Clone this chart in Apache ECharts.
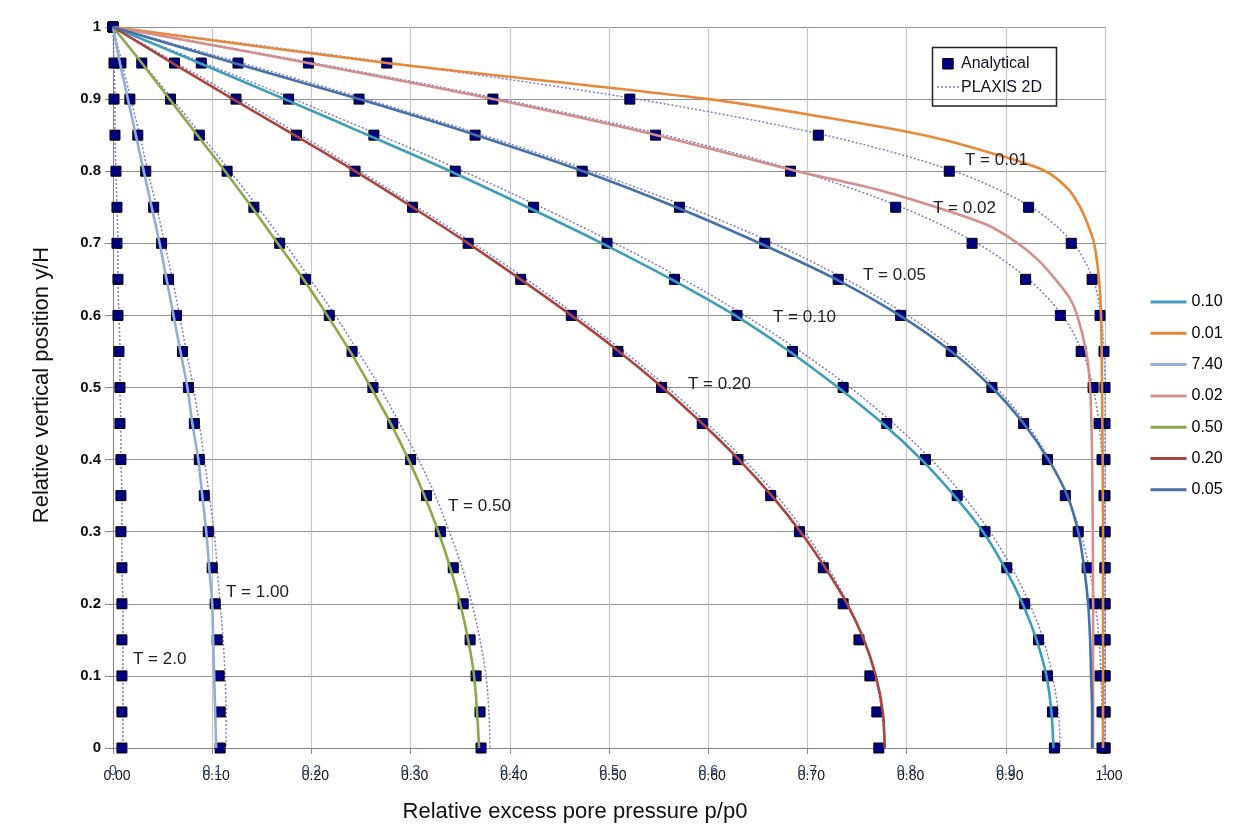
<!DOCTYPE html>
<html><head><meta charset="utf-8">
<script src="https://cdn.jsdelivr.net/npm/echarts@6/dist/echarts.min.js"></script>
<style>html,body{margin:0;padding:0;background:#fff;}#c{width:1245px;height:835px;}</style>
</head><body><div id="c"></div>
<script>
// ---------- data ----------
const yLevels = [1,0.95,0.9,0.85,0.8,0.75,0.7,0.65,0.6,0.55,0.5,0.45,0.4,0.35,0.3,0.25,0.2,0.15,0.1,0.05,0];
const xTickLabels = ['0.00','0.10','0.20','0.30','0.40','0.50','0.60','0.70','0.80','0.90','1.00'];
const xGhostLabels = ['0','0.1','0.2','0.3','0.4','0.5','0.6','0.7','0.8','0.9','1'];
const yTickLabels = ['0','0.1','0.2','0.3','0.4','0.5','0.6','0.7','0.8','0.9','1'];

// Analytical (squares), x values at yLevels
const anaT001 = [0,0.276,0.521,0.711,0.843,0.923,0.966,0.987,0.995,0.999,1.0,1.0,1.0,1.0,1.0,1.0,1.0,1.0,1.0,1.0,1.0];
const anaT002 = [0,0.197,0.383,0.547,0.683,0.789,0.866,0.920,0.955,0.976,0.988,0.994,0.997,0.999,1.0,1.0,1.0,1.0,1.0,1.0,1.0];
const anaT005 = [0,0.126,0.248,0.365,0.473,0.571,0.657,0.731,0.794,0.845,0.886,0.918,0.942,0.960,0.973,0.982,0.989,0.993,0.995,0.997,0.997];
const anaT010 = [0,0.089,0.177,0.263,0.345,0.424,0.498,0.566,0.629,0.685,0.736,0.780,0.819,0.851,0.879,0.901,0.919,0.933,0.942,0.947,0.949];
const anaT020 = [0,0.062,0.124,0.185,0.244,0.302,0.358,0.411,0.462,0.509,0.553,0.594,0.630,0.663,0.692,0.716,0.736,0.752,0.763,0.770,0.772];
const anaT050 = [0,0.029,0.058,0.087,0.115,0.142,0.168,0.194,0.218,0.241,0.262,0.282,0.300,0.316,0.330,0.343,0.353,0.360,0.366,0.370,0.371];
const anaT100 = [0,0.008,0.017,0.025,0.033,0.041,0.049,0.056,0.064,0.070,0.076,0.082,0.087,0.092,0.096,0.100,0.103,0.105,0.107,0.108,0.108];
const anaT200 = [0,0.001,0.001,0.002,0.003,0.004,0.004,0.005,0.005,0.006,0.007,0.007,0.008,0.008,0.008,0.009,0.009,0.009,0.009,0.009,0.009];

// PLAXIS 2D (dotted), x values at yLevels
const plxT001 = [0,0.282,0.528,0.718,0.848,0.926,0.968,0.988,0.996,0.999,1.0,1.0,1.0,1.0,1.0,1.0,1.0,1.0,1.0,1.0,1.0];
const plxT002 = [0,0.203,0.391,0.556,0.691,0.795,0.871,0.923,0.957,0.977,0.988,0.994,0.997,0.999,1.0,1.0,1.0,1.0,1.0,1.0,1.0];
const plxT005 = [0,0.130,0.255,0.373,0.482,0.580,0.666,0.739,0.801,0.851,0.890,0.921,0.944,0.962,0.975,0.984,0.990,0.994,0.996,0.997,0.998];
const plxT010 = [0,0.092,0.182,0.269,0.353,0.432,0.506,0.575,0.637,0.693,0.743,0.787,0.825,0.857,0.884,0.906,0.924,0.938,0.947,0.953,0.955];
const plxT020 = [0,0.064,0.127,0.189,0.249,0.307,0.363,0.417,0.467,0.515,0.559,0.599,0.636,0.669,0.697,0.721,0.741,0.757,0.768,0.775,0.778];
const plxT050 = [0,0.030,0.060,0.089,0.118,0.146,0.173,0.199,0.224,0.247,0.269,0.289,0.308,0.325,0.339,0.352,0.362,0.370,0.376,0.379,0.380];
const plxT100 = [0,0.009,0.018,0.027,0.035,0.044,0.052,0.060,0.067,0.074,0.081,0.087,0.092,0.097,0.102,0.105,0.108,0.111,0.113,0.114,0.114];
const plxT200 = [0,0.001,0.002,0.002,0.003,0.004,0.005,0.005,0.006,0.007,0.007,0.008,0.008,0.009,0.009,0.009,0.010,0.010,0.010,0.010,0.010];

// solid curves, [x, y] pairs
const line010 = [[0,1],[0.087,0.95],[0.173,0.9],[0.257,0.85],[0.340,0.8],[0.418,0.75],[0.493,0.7],[0.563,0.65],[0.627,0.6],[0.682,0.55],[0.731,0.5],[0.776,0.45],[0.815,0.4],[0.848,0.35],[0.877,0.3],[0.899,0.25],[0.917,0.2],[0.931,0.15],[0.941,0.1],[0.946,0.05],[0.948,0]];
const line001 = [[0,1],[0.276,0.95],[0.600,0.9],[0.717,0.875],[0.818,0.85],[0.886,0.825],[0.940,0.8],[0.963,0.775],[0.975,0.75],[0.983,0.725],[0.989,0.7],[0.994,0.65],[0.996,0.6],[0.997,0.5],[0.998,0.3],[0.998,0]];
const line740 = [[0,1],[0.007,0.95],[0.015,0.9],[0.023,0.85],[0.031,0.8],[0.039,0.75],[0.047,0.7],[0.054,0.65],[0.061,0.6],[0.068,0.55],[0.075,0.5],[0.080,0.45],[0.086,0.4],[0.090,0.35],[0.094,0.3],[0.097,0.25],[0.100,0.2],[0.101,0.15],[0.102,0.1],[0.103,0.05],[0.104,0]];
const line002 = [[0,1],[0.197,0.95],[0.383,0.9],[0.548,0.85],[0.690,0.8],[0.769,0.775],[0.830,0.75],[0.882,0.725],[0.912,0.7],[0.934,0.675],[0.950,0.65],[0.964,0.625],[0.972,0.6],[0.981,0.55],[0.985,0.5],[0.987,0.4],[0.988,0.2],[0.988,0]];
const line050 = [[0,1],[0.029,0.95],[0.057,0.9],[0.085,0.85],[0.113,0.8],[0.140,0.75],[0.166,0.7],[0.192,0.65],[0.216,0.6],[0.239,0.55],[0.260,0.5],[0.280,0.45],[0.298,0.4],[0.314,0.35],[0.328,0.3],[0.340,0.25],[0.350,0.2],[0.358,0.15],[0.364,0.1],[0.367,0.05],[0.369,0]];
const line020 = [[0,1],[0.060,0.95],[0.121,0.9],[0.183,0.85],[0.244,0.8],[0.302,0.75],[0.358,0.7],[0.411,0.65],[0.462,0.6],[0.510,0.55],[0.554,0.5],[0.594,0.45],[0.631,0.4],[0.664,0.35],[0.693,0.3],[0.718,0.25],[0.740,0.2],[0.757,0.15],[0.769,0.1],[0.776,0.05],[0.778,0]];
const line005 = [[0,1],[0.122,0.95],[0.248,0.9],[0.366,0.85],[0.474,0.8],[0.568,0.75],[0.652,0.7],[0.729,0.65],[0.793,0.6],[0.845,0.55],[0.886,0.5],[0.918,0.45],[0.943,0.4],[0.962,0.35],[0.973,0.3],[0.979,0.25],[0.983,0.2],[0.985,0.15],[0.986,0.1],[0.987,0.05],[0.987,0]];

const solidNames = ['0.10','0.01','7.40','0.02','0.50','0.20','0.05'];
const annoLabels = ['T = 0.01','T = 0.02','T = 0.05','T = 0.10','T = 0.20','T = 0.50','T = 1.00','T = 2.0'];

// ---------- build ----------
const FONT = "'Liberation Sans', Arial, sans-serif";
const solidData = [line010, line001, line740, line002, line050, line020, line005];
const solidColors = ['#3E9EB9','#E8893A','#93ADD4','#D48F8C','#8DA84B','#A9443F','#4571A8'];
const anaSets = [anaT001, anaT002, anaT005, anaT010, anaT020, anaT050, anaT100, anaT200];
const plxSets = [plxT001, plxT002, plxT005, plxT010, plxT020, plxT050, plxT100, plxT200];
const annoPos = [[965,160],[933,208],[863,275],[773,317],[688,384],[448,506],[226,592],[133,659]];

const series = [];
plxSets.forEach(p => series.push({
  name: 'PLAXIS 2D', type: 'line', symbol: 'none', smooth: 0.3,
  lineStyle: {color: '#7c7cca', width: 1.5, type: [2, 2]},
  data: yLevels.map((y, i) => [p[i], y]), z: 2
}));
anaSets.forEach(a => series.push({
  name: 'Analytical', type: 'scatter', symbol: 'rect', symbolSize: 10,
  itemStyle: {color: '#000080', borderColor: '#000', borderWidth: 1, opacity: 1},
  data: yLevels.map((y, i) => [a[i], y]), z: 3
}));
solidData.forEach((d, k) => series.push({
  name: solidNames[k], type: 'line', symbol: 'none', smooth: 0.3,
  lineStyle: {color: solidColors[k], width: 2.6}, itemStyle: {color: solidColors[k]},
  data: d, z: 4
}));

const graphics = [];
annoLabels.forEach((t, i) => graphics.push({
  type: 'text', x: annoPos[i][0], y: annoPos[i][1], z: 50,
  style: {text: t, fill: '#222', font: '17px ' + FONT, textAlign: 'left', textVerticalAlign: 'middle'}
}));
graphics.push(
  {type: 'rect', z: 60, shape: {x: 932.5, y: 47.5, width: 124, height: 58.5}, style: {fill: 'none', stroke: '#222', lineWidth: 1.5}},
  {type: 'rect', z: 61, shape: {x: 942.7, y: 58.5, width: 10.5, height: 10.5}, style: {fill: '#000080', stroke: '#000', lineWidth: 1}},
  {type: 'text', z: 61, x: 961, y: 64, style: {text: 'Analytical', fill: '#10102a', font: '16px ' + FONT, textAlign: 'left', textVerticalAlign: 'middle'}},
  {type: 'line', z: 61, shape: {x1: 937, y1: 87, x2: 959, y2: 87}, style: {stroke: '#7c7cca', lineWidth: 1.5, lineDash: [2, 2]}},
  {type: 'text', z: 61, x: 961, y: 88, style: {text: 'PLAXIS 2D', fill: '#10102a', font: '16px ' + FONT, textAlign: 'left', textVerticalAlign: 'middle'}},
  {type: 'text', z: 61, x: 575, y: 812, style: {text: 'Relative excess pore pressure p/p0', fill: '#111', font: '22px ' + FONT, textAlign: 'center', textVerticalAlign: 'middle'}},
  {type: 'text', z: 61, x: 42, y: 385, rotation: Math.PI / 2, style: {text: 'Relative vertical position y/H', fill: '#111', font: '22px ' + FONT, textAlign: 'center', textVerticalAlign: 'middle'}}
);

const chart = echarts.init(document.getElementById('c'), null, {renderer: 'canvas'});
chart.setOption({
  animation: false,
  backgroundColor: '#fff',
  grid: {left: 113, top: 27, right: 140, bottom: 87, containLabel: false},
  xAxis: [{
    type: 'value', min: 0, max: 1, interval: 0.1,
    axisLine: {show: true, lineStyle: {color: '#868686', width: 1}},
    axisTick: {show: true, length: 6, lineStyle: {color: '#868686'}},
    splitLine: {show: true, lineStyle: {color: '#c6c6c6', width: 1.2}},
    axisLabel: {margin: 21, fontSize: 14, color: '#111', fontFamily: FONT, padding: [0, 0, 0, 8],
      formatter: v => xTickLabels[Math.round(v * 10)]}
  }, {
    type: 'value', min: 0, max: 1, interval: 0.1, position: 'bottom',
    axisLine: {show: false}, axisTick: {show: false}, splitLine: {show: false},
    axisLabel: {margin: 16, fontSize: 14, color: '#34456f', fontFamily: FONT,
      formatter: v => xGhostLabels[Math.round(v * 10)]}
  }],
  yAxis: {
    type: 'value', min: 0, max: 1, interval: 0.1,
    axisLine: {show: true, lineStyle: {color: '#868686', width: 1}},
    axisTick: {show: true, length: 8, lineStyle: {color: '#868686'}},
    splitLine: {show: true, lineStyle: {color: '#8f8f8f', width: 1.2}},
    axisLabel: {margin: 12, fontSize: 15, fontWeight: 'bold', color: '#111', fontFamily: FONT,
      formatter: v => yTickLabels[Math.round(v * 10)]}
  },
  legend: {
    data: solidNames, orient: 'vertical', left: 1144, top: 289,
    itemWidth: 36, itemHeight: 16, itemGap: 15.3, selectedMode: false,
    itemStyle: {opacity: 0, borderWidth: 0},
    lineStyle: {width: 3},
    textStyle: {fontSize: 16, color: '#000', fontFamily: FONT}
  },
  series: series,
  graphic: graphics
});
</script></body></html>
